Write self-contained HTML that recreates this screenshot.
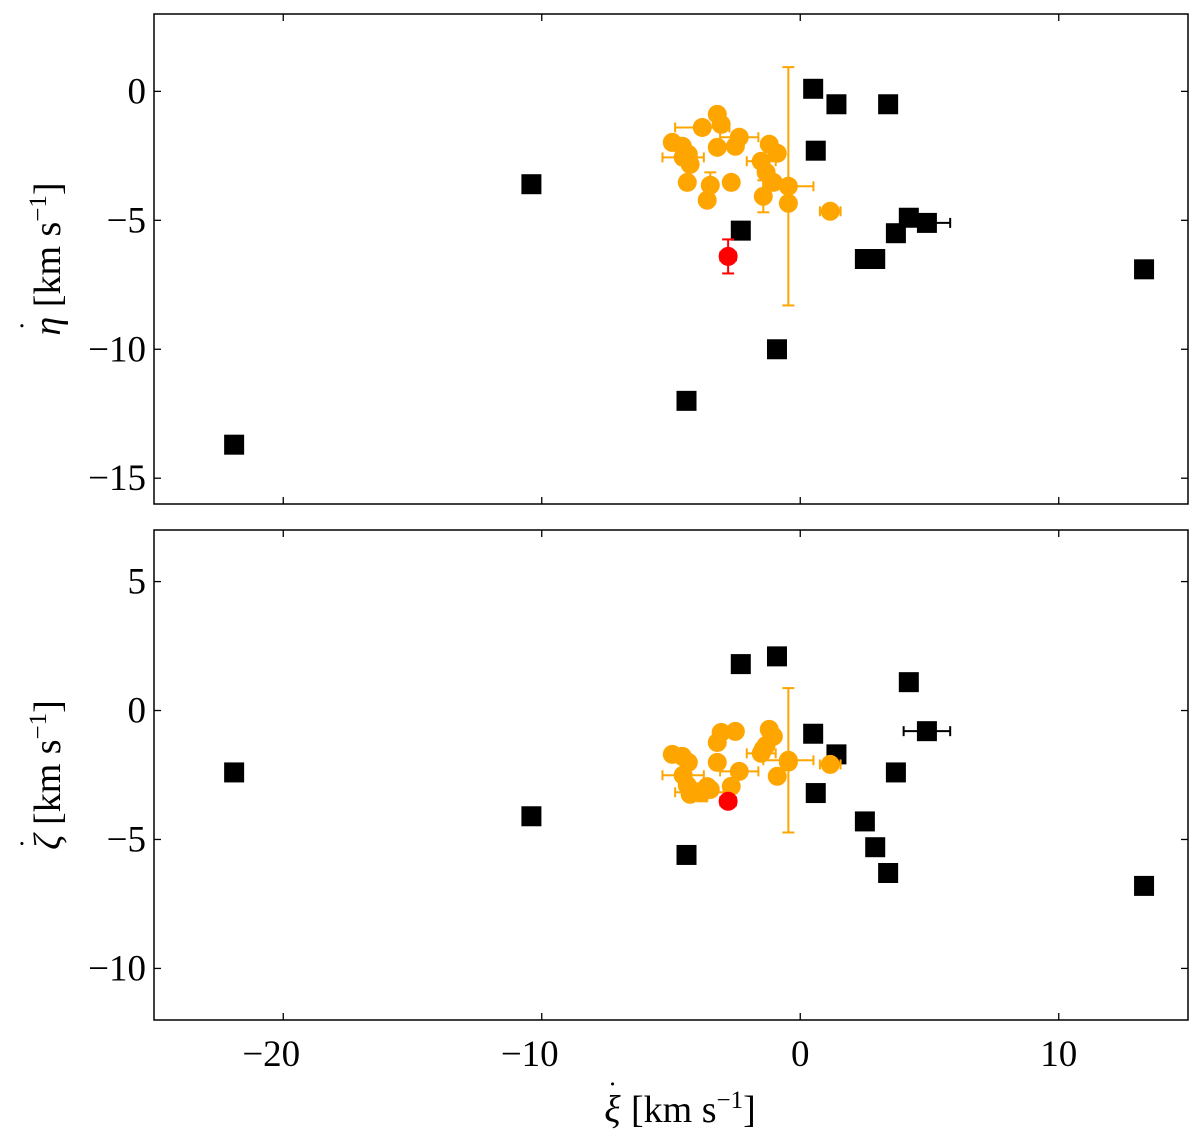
<!DOCTYPE html>
<html><head><meta charset="utf-8"><style>
html,body{margin:0;padding:0;background:#fff;}
svg{display:block;font-family:"Liberation Serif",serif;}
</style></head><body>
<svg id="chart" width="1200" height="1142" xmlns="http://www.w3.org/2000/svg"></svg>
<script>
// data (km/s)
const blackX   = [-21.9,-10.4,-4.4,-2.3,-0.9,0.5,0.6,1.4,2.5,2.9,3.4,3.7,4.2,4.9,13.3];
const blackTop = [-13.7,-3.6,-12.0,-5.4,-10.0,0.1,-2.3,-0.5,-6.5,-6.5,-0.5,-5.5,-4.9,-5.1,-6.9];
const blackBot = [-2.4,-4.1,-5.6,1.8,2.1,-0.9,-3.2,-1.7,-4.3,-5.3,-6.3,-2.4,1.1,-0.8,-6.8];
const blackXerr= [0.15,0,0,0,0,0,0,0,0,0,0,0,0,0.9,0];
const orangeX   = [-3.21,-3.06,-3.79,-4.95,-4.56,-4.33,-4.53,-4.26,-3.21,-2.51,-2.36,-1.20,-0.89,-1.51,-1.32,-1.04,-4.37,-3.48,-2.67,-3.60,-1.43,-0.46,-0.46,1.16];
const orangeTop = [-0.89,-1.28,-1.40,-1.98,-2.13,-2.44,-2.56,-2.83,-2.17,-2.13,-1.78,-2.05,-2.40,-2.71,-3.14,-3.53,-3.53,-3.64,-3.53,-4.22,-4.07,-3.68,-4.34,-4.65];
const orangeBot = [-1.24,-0.85,-3.17,-1.70,-1.78,-2.01,-2.51,-3.25,-2.01,-0.81,-2.36,-0.73,-2.55,-1.66,-1.35,-1.0,-2.90,-3.06,-2.94,-2.95,-1.5,-1.93,-2.0,-2.09];
const orangeXerr= [0,0,1.05,0,0,0,0.8,0,0,0,0.74,0,0,0.56,0,0,0,0,0,0,0,0.97,0,0.4];
const orangeTopErr=[0,0,0,0,0,0,0,0,0,0,0,0,0,0,0,0,0,0.5,0,0,0.62,4.62,0,0];
const orangeBotErr=[0,0,0.35,0,0,0,0,0,0,0,0,0,0,0,0,0,0,0,0,0,0,2.8,0,0];
const redX=[-2.79], redTop=[-6.40], redBot=[-3.52], redTopErr=[0.66], redXerr=[0.3];
const xTicks=[-20,-10,0,10];
const topTicks=[0,-5,-10,-15];
const botTicks=[5,0,-5,-10];

const NS="http://www.w3.org/2000/svg";
const svg=document.getElementById('chart');
const L=154,R=1188;
const X0=-25,X1=15;
const panels=[{t:14,b:504,y0:-16,y1:3},{t:530,b:1020,y0:-12,y1:7}];
function sx(v){return L+(v-X0)/(X1-X0)*(R-L);}
function syF(p){return v=>p.b-(v-p.y0)/(p.y1-p.y0)*(p.b-p.t);}
function el(tag,attrs,parent){const e=document.createElementNS(NS,tag);for(const k in attrs)e.setAttribute(k,attrs[k]);(parent||svg).appendChild(e);return e;}
function txt(s,x,y,size,anchor,parent){const t=el('text',{x:x,y:y,'font-size':size,'text-anchor':anchor,fill:'#000'},parent);t.textContent=s;return t;}
function fmt(v){return v<0?'\u2212'+Math.abs(v):String(v);}
function errbar(g,cx,cy,dx,dy,col){
  if(dx>0){el('line',{x1:cx-dx,y1:cy,x2:cx+dx,y2:cy,stroke:col,'stroke-width':2},g);
    el('line',{x1:cx-dx,y1:cy-5,x2:cx-dx,y2:cy+5,stroke:col,'stroke-width':2},g);
    el('line',{x1:cx+dx,y1:cy-5,x2:cx+dx,y2:cy+5,stroke:col,'stroke-width':2},g);}
  if(dy>0){el('line',{x1:cx,y1:cy-dy,x2:cx,y2:cy+dy,stroke:col,'stroke-width':2},g);
    el('line',{x1:cx-6,y1:cy-dy,x2:cx+6,y2:cy-dy,stroke:col,'stroke-width':2},g);
    el('line',{x1:cx-6,y1:cy+dy,x2:cx+6,y2:cy+dy,stroke:col,'stroke-width':2},g);}
}
const pxu=(R-L)/(X1-X0);
panels.forEach((p,pi)=>{
  const sy=syF(p);
  const pyu=(p.b-p.t)/(p.y1-p.y0);
  const g=el('g',{});
  
  
  const yArr=pi===0?blackTop:blackBot;
  const oArr=pi===0?orangeTop:orangeBot;
  const oErr=pi===0?orangeTopErr:orangeBotErr;
  const rArr=pi===0?redTop:redBot;
  blackX.forEach((x,i)=>{
    const cx=sx(x),cy=sy(yArr[i]);
    errbar(g,cx,cy,blackXerr[i]*pxu,0,'#000');
    const r=el('rect',{x:cx-10,y:cy-10,width:20,height:20,fill:'#000'},g);
    
    
  });
  orangeX.forEach((x,i)=>{errbar(g,sx(x),sy(oArr[i]),orangeXerr[i]*pxu,oErr[i]*pyu,'#ffa500');});
  orangeX.forEach((x,i)=>{
    const c=el('circle',{cx:sx(x),cy:sy(oArr[i]),r:9.5,fill:'#ffa500'},g);
    
    
  });
  redX.forEach((x,i)=>{
    errbar(g,sx(x),sy(rArr[i]),redXerr[i]*pxu,pi===0?redTopErr[i]*pyu:0,'#ff0000');
    const c=el('circle',{cx:sx(x),cy:sy(rArr[i]),r:9.5,fill:'#ff0000'},g);
    
    
  });
  const f=el('rect',{x:L,y:p.t,width:R-L,height:p.b-p.t,fill:'none',stroke:'#000','stroke-width':1.5});
  
  
  xTicks.forEach(v=>{
    el('line',{x1:sx(v),y1:p.b,x2:sx(v),y2:p.b-7,stroke:'#000','stroke-width':1.3});
    el('line',{x1:sx(v),y1:p.t,x2:sx(v),y2:p.t+7,stroke:'#000','stroke-width':1.3});
    if(pi===1){const t=txt(fmt(v),sx(v)-(v<0?12:0),1066,37,'middle');
      
      }
  });
  (pi===0?topTicks:botTicks).forEach(v=>{
    el('line',{x1:L,y1:sy(v),x2:L+7,y2:sy(v),stroke:'#000','stroke-width':1.3});
    el('line',{x1:R,y1:sy(v),x2:R-7,y2:sy(v),stroke:'#000','stroke-width':1.3});
    const t=txt(fmt(v),146,sy(v)+12,37,'end');
    
    
  });
  const yc=(p.t+p.b)/2;
  const lab=el('text',{x:0,y:0,'font-size':38,'text-anchor':'middle',transform:`translate(60,${yc}) rotate(-90)`});
  
  
  lab.innerHTML=(pi===0?'<tspan font-style="italic">η</tspan>':'<tspan font-style="italic">ζ</tspan>')+'<tspan dx="-14" dy="-20" font-size="30">˙</tspan><tspan dx="4" dy="20"> [km s</tspan><tspan dy="-14" font-size="25">−1</tspan><tspan dy="14">]</tspan>';
});
const xl=el('text',{x:680,y:1122,'font-size':38,'text-anchor':'middle'});


xl.innerHTML='<tspan font-style="italic">ξ</tspan><tspan dx="-13" dy="-20" font-size="30">˙</tspan><tspan dx="4" dy="20"> [km s</tspan><tspan dy="-14" font-size="25">−1</tspan><tspan dy="14">]</tspan>';
</script>
</body></html>
